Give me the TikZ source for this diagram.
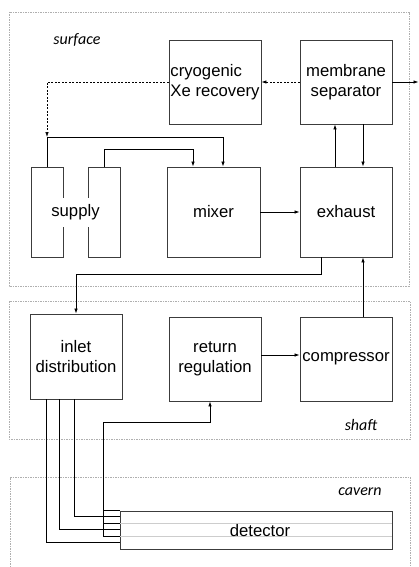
\documentclass[tikz,border=0pt]{standalone}
\usepackage{fontspec}
\setmainfont{Liberation Sans}
\newfontfamily\zonefont{Carlito}
\usetikzlibrary{arrows.meta,positioning}
\definecolor{boxLine}{RGB}{60,60,60}
\definecolor{zoneLine}{RGB}{175,175,175}
\definecolor{layerLine}{RGB}{205,205,205}
\tikzset{
  unit/.style={draw=boxLine, line width=0.9pt, minimum width=92pt, minimum height=84pt,
    inner sep=0pt, align=center, font=\fontsize{16.7}{19.5}\selectfont},
  tank/.style={draw=boxLine, line width=0.9pt, minimum width=32pt, minimum height=90pt, inner sep=0pt},
  zone/.style={draw=zoneLine, line width=0.6pt, dash pattern=on 1.5pt off 1pt},
  zonelabel/.style={font=\zonefont\itshape\fontsize{16}{19}\selectfont},
  flow/.style={line width=0.7pt, -{Latex[length=5pt,width=3.5pt]}},
  flowd/.style={flow, dash pattern=on 2pt off 1.5pt},
  pipe/.style={line width=0.7pt},
}

\begin{document}
\begin{tikzpicture}[x=1pt,y=-1pt]
    \useasboundingbox (0,0) rectangle (419,567);

    % zones
    \draw[zone] (9,12) rectangle (409,286);
    \draw[zone] (9,301) rectangle (410,439);
    \draw[zone] (10,567) -- (10,477) -- (410,477) -- (410,567);
    \node[zonelabel] (surf) at (77,40) {surface};
    \node[zonelabel] (shaft) at (361,425) {shaft};
    \node[zonelabel] (cav) at (360,492) {cavern};

    % surface units
    \node[unit, align=left] (cryo) at (215,82) {cryogenic\\Xe recovery};
    \node[unit] (memb) at (346,82) {membrane\\separator};
    \node[tank] (supA) at (47,212) {};
    \node[tank] (supB) at (104,212) {};
    \node[fill=white, inner sep=0pt, minimum height=29pt, font=\fontsize{16.7}{19.5}\selectfont] (supply) at (75.5,212) {supply};
    \node[unit, minimum width=93pt, minimum height=90pt] (mixer) at (213.5,212) {mixer};
    \node[unit, minimum height=90pt] (exh) at (346,212) {exhaust};

    % shaft units
    \node[unit, minimum height=85pt] (inlet) at (76,356.5) {inlet\\distribution};
    \node[unit] (retreg) at (215,359) {return\\regulation};
    \node[unit] (comp) at (346,359) {compressor};

    % detector
    \node[unit, minimum width=272pt, minimum height=38pt] (det) at (256,530) {};
    \draw[layerLine, line width=0.8pt] ([yshift=-13pt]det.north west) -- ([yshift=-13pt]det.north east);
    \draw[layerLine, line width=0.8pt] ([yshift=-26pt]det.north west) -- ([yshift=-26pt]det.north east);
    \node[font=\fontsize{16.7}{19.5}\selectfont] (detname) at (260,530.5) {detector};

    % gas flow, surface
    \coordinate (jn) at (47,137);
    \coordinate (out) at (418.5,82);
    \draw[flowd] (memb.west) -- (cryo.east);
    \draw[flowd] (cryo.west) -| (jn);
    \draw[flow] (supA.north) -- (jn) -| ([xshift=9.5pt]mixer.north);
    \draw[flow] (supB.north) -- ++(0,-17) -| ([xshift=-20.5pt]mixer.north);
    \draw[flow] (mixer.east) -- (exh.west);
    \draw[flow] ([xshift=-11pt]exh.north) -- ([xshift=-11pt]memb.south);
    \draw[flow] ([xshift=17pt]memb.south) -- ([xshift=17pt]exh.north);
    \draw[flow] (memb.east) -- (out);

    % gas flow, shaft
    \draw[flow] ([xshift=-25pt]exh.south) -- ++(0,17) -| (inlet.north);
    \draw[flow] ([xshift=17pt]comp.north) -- ([xshift=17pt]exh.south);
    \draw[flow] ([yshift=4pt]retreg.east) -- ([yshift=4pt]retreg.east -| comp.west);

    % detector feed and return
    \draw[pipe] ([xshift=-2pt]inlet.south) |- ([yshift=-6pt]det.north west);
    \draw[pipe] ([xshift=-17pt]inlet.south) |- ([yshift=-19pt]det.north west);
    \draw[pipe] ([xshift=-30pt]inlet.south) |- ([yshift=-32pt]det.north west);
    \foreach \dy in {0,13,26}
        \draw[pipe] ([yshift=-\dy pt]det.north west) -- ++(-16pt,0);
    \draw[flow] ([xshift=-16pt,yshift=-26pt]det.north west) -- ([xshift=-16pt]det.north west)
        -- ++(0,-88) -| ([xshift=-5pt]retreg.south);
\end{tikzpicture}
\end{document}
